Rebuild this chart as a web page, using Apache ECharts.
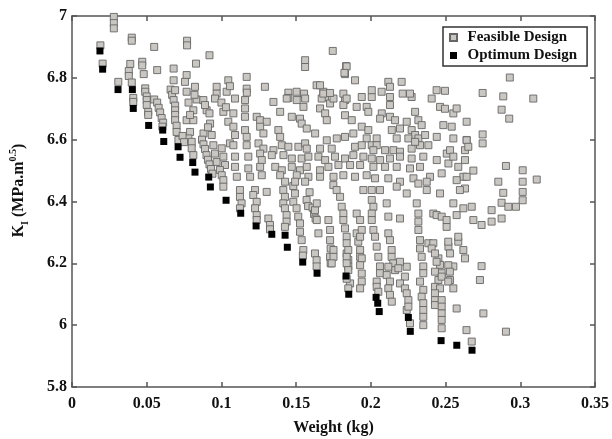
<!DOCTYPE html>
<html><head><meta charset="utf-8">
<script src="https://cdn.jsdelivr.net/npm/echarts/dist/echarts.min.js"></script>
<style>html,body{margin:0;padding:0;background:#fff}#c{width:612px;height:439px}</style>
</head><body><div id="c"></div>
<script>
const xTickLabels = ['0','0.05','0.1','0.15','0.2','0.25','0.3','0.35'];
const yTickLabels = ['5.8','6','6.2','6.4','6.6','6.8','7'];
const seriesNames = ['Feasible Design','Optimum Design'];

const optimum = [[0.0187,6.887],[0.0205,6.828],[0.0308,6.762],[0.0404,6.762],[0.041,6.701],[0.0513,6.646],[0.0607,6.631],[0.0614,6.594],[0.071,6.577],[0.0723,6.543],[0.0808,6.526],[0.0823,6.495],[0.0915,6.479],[0.0926,6.447],[0.1031,6.404],[0.1129,6.362],[0.1232,6.321],[0.1337,6.294],[0.1426,6.291],[0.1441,6.252],[0.1544,6.204],[0.164,6.168],[0.1834,6.159],[0.1852,6.1],[0.2035,6.09],[0.2046,6.071],[0.2056,6.044],[0.2251,6.025],[0.2264,5.98],[0.247,5.95],[0.2575,5.935],[0.2677,5.919]];

const feasibleLeft = [[0.019,6.905],[0.0205,6.846],[0.028,6.997],[0.028,6.977],[0.028,6.96],[0.031,6.787],
[0.04,6.93],[0.04,6.92],[0.039,6.845],[0.038,6.822],[0.038,6.806],[0.04,6.785],[0.041,6.735],[0.041,6.722],
[0.047,6.852],[0.047,6.84],[0.048,6.812],[0.049,6.766],[0.049,6.755],[0.05,6.74],[0.05,6.728],[0.05,6.712],[0.051,6.69],[0.051,6.68],
[0.055,6.9],[0.057,6.825],[0.055,6.73],[0.057,6.72],[0.058,6.703],[0.059,6.688],[0.06,6.67],[0.061,6.655],[0.0605,6.642],
[0.066,6.762],[0.067,6.745],[0.068,6.83],[0.068,6.792],[0.069,6.76],[0.068,6.728],[0.069,6.71],[0.069,6.695],[0.069,6.68],[0.069,6.663],[0.07,6.645],[0.07,6.625],[0.0712,6.599],
[0.077,6.92],[0.077,6.905],[0.083,6.846],[0.0767,6.809],[0.0756,6.787],[0.0823,6.771],[0.0767,6.755],[0.0834,6.73],[0.0812,6.695],[0.0767,6.663],[0.0812,6.663],[0.079,6.625],[0.0779,6.604],[0.0801,6.593],[0.0801,6.572],[0.0812,6.55],[0.079,6.68],[0.082,6.745],[0.078,6.72],[0.074,6.612],[0.075,6.592],
[0.092,6.873],[0.0879,6.728],[0.0901,6.695],[0.0924,6.652],[0.0935,6.615],[0.0946,6.582],[0.0957,6.555],[0.0968,6.528],[0.0968,6.771],[0.0968,6.749],[0.0957,6.733],[0.089,6.712],[0.088,6.62],[0.087,6.6],[0.088,6.585],[0.089,6.57],[0.09,6.55],[0.091,6.535],[0.092,6.52],[0.093,6.505],[0.094,6.49],[0.092,6.685],[0.091,6.64]];

const feasibleMid = [[0.1046,6.792],[0.1035,6.755],[0.1057,6.773],[0.1013,6.69],[0.1046,6.658],[0.1057,6.588],[0.1002,6.572],[0.1013,6.545],[0.1024,6.518],[0.099,6.502],[0.1002,6.485],[0.1013,6.469],[0.1013,6.448],[0.1,6.72],[0.103,6.705],
[0.1169,6.803],[0.1169,6.765],[0.117,6.752],[0.1124,6.437],[0.1124,6.415],[0.1135,6.394],[0.1124,6.378],
[0.1225,6.437],[0.1213,6.421],[0.1236,6.399],[0.1225,6.378],[0.1236,6.356],[0.1236,6.34],
[0.1291,6.771],[0.1303,6.431],[0.1314,6.345],[0.1325,6.324],[0.1325,6.31],
[0.1414,6.437],[0.1425,6.415],[0.1414,6.394],[0.1425,6.378],[0.1436,6.356],[0.1436,6.335],[0.1425,6.318],
[0.1448,6.752],[0.1448,6.735],[0.1503,6.755],[0.1553,6.749],
[0.1481,6.45],[0.1492,6.426],[0.1481,6.399],[0.1503,6.378],[0.1514,6.351],[0.1526,6.329],[0.1526,6.302],[0.1537,6.275],[0.1548,6.243],[0.1545,6.225],
[0.156,6.857],[0.156,6.835],[0.1637,6.776],[0.1682,6.755],[0.1693,6.738],
[0.159,6.43],[0.157,6.405],[0.158,6.385],[0.161,6.38],[0.162,6.36],[0.163,6.345],[0.1626,6.232],[0.1637,6.21],[0.1637,6.19]];

const feasibleCoreLeft = [[0.1091,6.733],[0.1158,6.728],[0.1158,6.701],[0.1348,6.722],[0.1437,6.733],[0.1504,6.728],[0.156,6.733],[0.1549,6.706],[0.1671,6.733],[0.1727,6.717],[0.166,6.701],[0.1694,6.685],
[0.108,6.685],[0.1158,6.674],[0.1236,6.674],[0.1259,6.663],[0.1303,6.658],[0.1393,6.69],[0.1471,6.674],[0.1526,6.668],[0.1537,6.652],[0.1705,6.663],
[0.108,6.642],[0.1091,6.615],[0.1158,6.631],[0.1169,6.609],[0.1259,6.642],[0.1281,6.62],[0.1381,6.631],[0.1393,6.609],[0.1571,6.636],[0.1627,6.62],[0.1705,6.598],
[0.108,6.582],[0.1169,6.582],[0.1248,6.588],[0.1281,6.571],[0.1348,6.566],[0.1404,6.582],[0.1448,6.577],[0.1515,6.577],[0.156,6.588],[0.1571,6.571],[0.166,6.571],
[0.1091,6.545],[0.118,6.545],[0.1259,6.555],[0.127,6.534],[0.1337,6.55],[0.1415,6.55],[0.1471,6.539],[0.1537,6.539],[0.1582,6.545],[0.1649,6.545],[0.1694,6.534],
[0.1091,6.512],[0.118,6.507],[0.1259,6.512],[0.136,6.512],[0.1404,6.501],[0.1471,6.512],[0.1526,6.501],[0.1571,6.512],[0.166,6.501],[0.1716,6.512],
[0.1103,6.48],[0.1192,6.48],[0.127,6.485],[0.1393,6.485],[0.1504,6.485],[0.1582,6.48],[0.166,6.48],[0.1426,6.464],[0.1493,6.464],[0.156,6.464]];

const feasibleCoreRight = [[0.175,6.733],[0.1827,6.728],[0.1939,6.738],[0.2006,6.738],[0.2128,6.738],[0.2273,6.738],[0.2407,6.733],
[0.1816,6.712],[0.1905,6.706],[0.1972,6.706],[0.1983,6.69],[0.2128,6.712],[0.2296,6.69],[0.2463,6.706],[0.2496,6.7],
[0.1827,6.679],[0.1872,6.663],[0.2073,6.685],[0.2062,6.668],[0.2128,6.674],[0.2162,6.663],[0.224,6.658],[0.2318,6.663],[0.234,6.647],[0.2485,6.647],
[0.1939,6.642],[0.1983,6.631],[0.214,6.631],[0.2195,6.636],[0.2273,6.631],[0.2296,6.615],
[0.1772,6.604],[0.1827,6.609],[0.1883,6.62],[0.1972,6.604],[0.2039,6.604],[0.2173,6.604],[0.2251,6.604],[0.2318,6.604],[0.2363,6.615],[0.2441,6.609],[0.2329,6.582],[0.2385,6.582],
[0.1738,6.571],[0.1894,6.577],[0.1939,6.582],[0.2006,6.582],[0.2039,6.582],[0.2017,6.566],[0.2095,6.566],[0.2151,6.566],[0.2195,6.561],[0.2273,6.571],[0.2296,6.593],
[0.176,6.545],[0.1827,6.539],[0.1883,6.55],[0.195,6.545],[0.2006,6.539],[0.2062,6.534],[0.2128,6.539],[0.2195,6.545],[0.2273,6.539],[0.2351,6.545],[0.2441,6.534],[0.2508,6.555],
[0.1783,6.518],[0.1861,6.518],[0.1928,6.518],[0.2017,6.512],[0.2095,6.512],[0.2173,6.512],[0.2262,6.507],[0.2329,6.512],[0.2519,6.523],[0.2474,6.491],
[0.175,6.48],[0.1816,6.485],[0.1894,6.48],[0.1972,6.485],[0.2028,6.475],[0.2117,6.475],[0.2195,6.464],[0.2285,6.475],[0.2318,6.458],[0.2396,6.48],[0.2374,6.464]];

const feasibleUpper = [[0.1745,6.887],[0.1834,6.838],[0.1827,6.812],[0.1894,6.792],[0.166,6.776],[0.1682,6.749],[0.1727,6.751],
[0.1816,6.749],[0.1838,6.733],[0.2006,6.76],[0.2072,6.755],[0.2117,6.787],[0.2128,6.771],[0.2206,6.787],[0.2213,6.749],[0.2262,6.749],
[0.244,6.76],[0.2496,6.758],[0.2552,6.685],[0.2574,6.701],[0.2541,6.642],[0.2641,6.658],[0.2552,6.604],[0.2641,6.599],[0.263,6.566],[0.253,6.566],
[0.2552,6.545],[0.263,6.534],
[0.1838,6.837],[0.1823,6.816],[0.293,6.801],[0.2748,6.751],[0.2886,6.74],[0.3087,6.733],[0.2875,6.697],[0.2926,6.668],[0.2748,6.617],[0.2748,6.588],[0.2904,6.515],[0.3016,6.501],[0.3016,6.464],[0.3016,6.431],[0.3016,6.404],[0.311,6.471],[0.2853,6.464],[0.2886,6.428],[0.2875,6.396],[0.292,6.383],[0.2971,6.383],[0.2686,6.5],[0.2641,6.598],[0.2652,6.577],[0.263,6.442],[0.2808,6.372],[0.2585,6.512],[0.2619,6.48],
[0.1749,6.453],[0.195,6.437],[0.2061,6.437],[0.2173,6.448],[0.224,6.426],[0.2374,6.437],[0.2463,6.426],[0.2596,6.437],[0.2574,6.469],[0.2641,6.48]];

const feasibleLower = [[0.1626,6.372],[0.1638,6.394],[0.1638,6.34],[0.1649,6.297],
[0.1716,6.34],[0.1727,6.308],[0.1727,6.275],[0.1731,6.248],[0.1727,6.221],[0.1731,6.2],
[0.1771,6.437],[0.1794,6.415],[0.1805,6.383],[0.1816,6.361],[0.1816,6.34],[0.1827,6.313],[0.1838,6.286],[0.1838,6.265],[0.1838,6.232],[0.1849,6.211],[0.1849,6.19],[0.1861,6.135],
[0.1905,6.297],[0.1916,6.27],[0.1928,6.243],[0.1928,6.221],[0.1905,6.361],[0.1928,6.34],
[0.2006,6.437],[0.2006,6.405],[0.2017,6.383],[0.2006,6.361],[0.2006,6.34],[0.2017,6.308],[0.2028,6.286],[0.2039,6.254],[0.205,6.221],[0.2061,6.19],[0.2061,6.168],[0.2039,6.141],
[0.2106,6.394],[0.2117,6.297],[0.2128,6.275],[0.2139,6.243],[0.2139,6.221],[0.215,6.2],[0.2162,6.178],[0.2195,6.345],[0.224,6.189],
[0.2307,6.394],[0.2318,6.361],[0.2318,6.335],[0.2318,6.308],[0.2329,6.275],[0.2329,6.248],[0.234,6.221],[0.2351,6.19],[0.2351,6.168],
[0.2385,6.265],[0.2418,6.265],[0.2452,6.216],[0.2463,6.195],[0.2474,6.168],[0.2452,6.146],
[0.2507,6.318],[0.2552,6.394],[0.2574,6.356],[0.2519,6.254],[0.253,6.232],[0.2552,6.19],[0.253,6.146],[0.2585,6.27],[0.2619,6.243],[0.263,6.216],
[0.2329,6.141],[0.2351,6.114],[0.234,6.092],[0.2351,6.071],[0.2351,6.049],[0.2351,6.027],[0.2351,6.0],[0.224,6.049],[0.2262,6.006],
[0.2418,6.361],[0.244,6.356],[0.2474,6.351],[0.2507,6.34],[0.2585,6.286],[0.2518,6.27],[0.2407,6.248],[0.2429,6.232],
[0.244,6.205],[0.2429,6.173],[0.2474,6.157],[0.2429,6.124],[0.2463,6.119],[0.2429,6.103],[0.2429,6.081],[0.2429,6.065],[0.2474,6.081],[0.2474,6.06],[0.2474,6.038],[0.2474,6.017],[0.2474,5.99],
[0.2518,6.194],[0.2529,6.173],[0.2518,6.141],[0.2552,6.119],[0.2574,6.054],[0.264,5.984],[0.2675,5.947],[0.2741,6.191],[0.273,6.146],[0.2753,6.038],[0.2904,5.979],
[0.2195,6.205],[0.2184,6.184],[0.2228,6.157],[0.2195,6.135],[0.2228,6.119],[0.224,6.103],[0.2251,6.081],[0.2251,6.06],
[0.2117,6.189],[0.2106,6.162],[0.2128,6.141],[0.2117,6.119],[0.2128,6.098],[0.214,6.076],[0.2039,6.124],[0.205,6.108],
[0.1939,6.308],[0.1928,6.286],[0.1939,6.216],[0.1928,6.194],[0.1939,6.167],[0.1939,6.141],[0.1928,6.119],
[0.1849,6.243],[0.1838,6.221],[0.1838,6.2],[0.1849,6.178],[0.1838,6.15],[0.1849,6.119],[0.175,6.243],[0.175,6.221],[0.1738,6.2],
[0.2741,6.324],[0.2808,6.335],[0.2875,6.345],[0.2686,6.34],[0.2619,6.378],[0.2675,6.383],[0.2117,6.351]];

const FONT = 'Liberation Serif';
const AX = '#555';
const chart = echarts.init(document.getElementById('c'), null, {renderer: 'canvas'});
const lineStyle = {color: AX, width: 1.5};
const hiddenAxis = {
  axisLine: {show: true, onZero: false, lineStyle},
  axisTick: {show: true, inside: true, length: 5, lineStyle},
  axisLabel: {show: false}, splitLine: {show: false}
};
chart.setOption({
  animation: false,
  backgroundColor: '#fff',
  grid: {left: 72, right: 17, top: 16, bottom: 52, outerBoundsMode: 'none', containLabel: false},
  legend: {
    orient: 'vertical', left: 443, top: 27,
    data: [
      {name: seriesNames[0], icon: 'path://M0,0h10v10h-10z'},
      {name: seriesNames[1], icon: 'path://M0,0h10v10h-10z'}
    ],
    itemWidth: 18, itemHeight: 7, itemGap: 3,
    padding: [3, 10, 3, 6],
    borderColor: '#333', borderWidth: 1.5, backgroundColor: '#fff',
    textStyle: {fontFamily: FONT, fontWeight: 'bold', fontSize: 15, color: '#111', lineHeight: 15}
  },
  xAxis: [
    {type: 'value', position: 'bottom', min: 0, max: 0.35, interval: 0.05,
     axisLine: {show: true, onZero: false, lineStyle},
     axisTick: {show: true, inside: true, length: 5, lineStyle},
     splitLine: {show: false},
     axisLabel: {margin: 9, color: '#111', fontFamily: FONT, fontWeight: 'bold', fontSize: 16,
       formatter: (v, i) => xTickLabels[i] !== undefined ? xTickLabels[i] : ''},
     name: 'Weight (kg)', nameLocation: 'middle', nameGap: 33, nameMoveOverlap: false,
     nameTextStyle: {color: '#111', fontFamily: FONT, fontWeight: 'bold', fontSize: 16}},
    Object.assign({type: 'value', position: 'top', min: 0, max: 0.35, interval: 0.05}, hiddenAxis)
  ],
  yAxis: [
    {type: 'value', position: 'left', min: 5.8, max: 7, interval: 0.2,
     axisLine: {show: true, onZero: false, lineStyle},
     axisTick: {show: true, inside: true, length: 5, lineStyle},
     splitLine: {show: false},
     axisLabel: {margin: 5, color: '#111', fontFamily: FONT, fontWeight: 'bold', fontSize: 16,
       formatter: (v, i) => yTickLabels[i] !== undefined ? yTickLabels[i] : ''},
     name: '{m|K}{sub|I}{m| (MPa.m}{sup|0.5}{m|)}', nameLocation: 'middle', nameGap: 42, nameRotate: 90, nameMoveOverlap: false,
     nameTextStyle: {color: '#111', fontFamily: FONT, fontWeight: 'bold', fontSize: 16, padding: [0, 0, 0, 22],
       rich: {
         m: {fontFamily: FONT, fontWeight: 'bold', fontSize: 16, color: '#111', lineHeight: 22},
         sub: {fontFamily: FONT, fontWeight: 'bold', fontSize: 10, color: '#111', lineHeight: 12, verticalAlign: 'bottom'},
         sup: {fontFamily: FONT, fontWeight: 'bold', fontSize: 10, color: '#111', lineHeight: 12, verticalAlign: 'top'}
       }}},
    Object.assign({type: 'value', position: 'right', min: 5.8, max: 7, interval: 0.2}, hiddenAxis)
  ],
  series: [
    {name: seriesNames[0], type: 'scatter', xAxisIndex: 0, yAxisIndex: 0, symbol: 'rect', symbolSize: 7,
     data: feasibleLeft.concat(feasibleMid, feasibleCoreLeft, feasibleCoreRight, feasibleUpper, feasibleLower),
     itemStyle: {color: '#cac7c2', borderColor: '#666', borderWidth: 0.9, opacity: 1},
     emphasis: {disabled: true}},
    {name: seriesNames[1], type: 'scatter', xAxisIndex: 0, yAxisIndex: 0, symbol: 'rect', symbolSize: 7,
     data: optimum, itemStyle: {color: '#000', opacity: 1}, emphasis: {disabled: true}, z: 3}
  ]
});
</script></body></html>
